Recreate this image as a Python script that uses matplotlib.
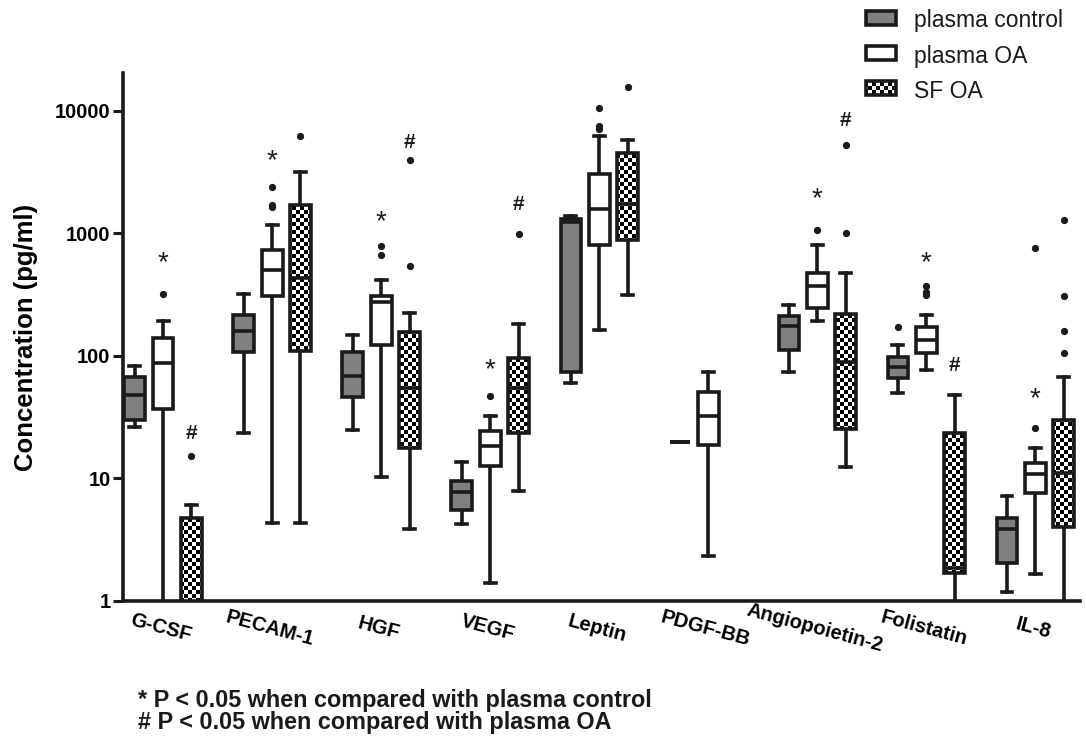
import numpy as np
import matplotlib
matplotlib.use('Agg')
import matplotlib.pyplot as plt
from matplotlib.patches import Rectangle
from matplotlib.image import AxesImage
from matplotlib.transforms import IdentityTransform

plt.rcParams['font.family'] = ['Liberation Sans', 'DejaVu Sans']

cytokines = ['G-CSF', 'PECAM-1', 'HGF', 'VEGF', 'Leptin', 'PDGF-BB',
             'Angiopoietin-2', 'Folistatin', 'IL-8']

# [whisker low, Q1, median, Q3, whisker high]  (pg/ml)
ctrl_box = [
    [26.5, 30, 48, 67, 83],
    [23.5, 108, 159, 216, 321],
    [25, 46, 69, 108, 147],
    [4.24, 5.54, 7.75, 9.6, 13.7],
    [60, 73.5, 1230, 1318, 1390],
    [20, 20, 20, 20, 20],
    [73.5, 112, 176, 211, 261],
    [49.8, 66, 82, 98, 124],
    [1.18, 2.05, 3.88, 4.75, 7.15],
]
ctrl_out = [[], [], [], [], [], [], [], [172], []]

oa_box = [
    [0.3, 37, 87, 139, 194],
    [4.32, 311, 504, 734, 1175],
    [10.3, 123, 277, 311, 415],
    [1.40, 12.6, 18.5, 24.3, 32.2],
    [164, 807, 1578, 3050, 6290],
    [2.35, 18.9, 32.2, 50.8, 74.5],
    [192, 246, 375, 475, 812],
    [77, 105, 136, 172, 218],
    [1.66, 7.64, 10.8, 13.5, 17.7],
]
oa_out = [[321], [1650, 1720, 2410], [664, 796], [46.8], [7150, 7550, 10550],
          [], [1062], [315, 333, 373], [25.6, 755]]

sf_box = [
    [0.3, 0.5, 0.8, 4.8, 6.1],
    [4.32, 110, 430, 1720, 3150],
    [3.88, 17.9, 55, 157, 225],
    [7.85, 23.5, 55, 96, 182],
    [315, 880, 1750, 4560, 5770],
    None,
    [12.4, 25.4, 90, 219, 475],
    [0.5, 1.69, 1.85, 23.5, 48.4],
    [0.5, 4.01, 11, 30.1, 67.3],
]
sf_out = [[15.4], [6250], [543, 3990], [987], [15800], [], [1007, 5320], [],
          [106, 159, 311, 1290]]

# significance marks
star_y = [569, 3855, 1231, 76, None, None, 1905, 569, 44.4]   # * over plasma OA
hash_y = [23.5, None, 5575, 1722, None, None, 8340, 84, None]  # # over SF OA

W, H = 1086, 742
fig = plt.figure(figsize=(W / 100, H / 100), dpi=100)
ax = fig.add_axes([123 / W, 1 - 601 / H, (1080 - 123) / W, (601 - 73) / H])

ink = '#1a1a1a'
lw = 2.6
off = 0.26
bw = 0.19

# checkerboard in figure pixels
cell = 4
yy, xx = np.mgrid[0:H, 0:W]
checker = ((yy // cell + xx // cell) % 2).astype(float)


def checker_image(clip_patch, zorder, clip_box):
    im = AxesImage(ax, cmap='gray', interpolation='nearest',
                   transform=IdentityTransform(), extent=(0, W, 0, H),
                   origin='lower')
    im.set_data(checker)
    im.set_clim(0, 1)
    im.set_zorder(zorder)
    ax.add_image(im)
    im.set_clip_box(clip_box)
    im.set_clip_path(clip_patch)
    return im


x = np.arange(len(cytokines))
series = [(ctrl_box, ctrl_out, -off, '#808080'),
          (oa_box, oa_out, 0.0, 'white'),
          (sf_box, sf_out, off, 'none')]

for boxes, outs, dx, fc in series:
    stats, pos = [], []
    for i, b in enumerate(boxes):
        if b is None:
            continue
        lo, q1, med, q3, hi = b
        stats.append(dict(whislo=lo, q1=q1, med=med, q3=q3, whishi=hi,
                          fliers=outs[i]))
        pos.append(x[i] + dx)
    art = ax.bxp(stats, positions=pos, widths=bw, patch_artist=True,
                 manage_ticks=False, capwidths=0.1,
                 boxprops=dict(facecolor=fc, edgecolor=ink, linewidth=lw),
                 whiskerprops=dict(color=ink, linewidth=lw),
                 capprops=dict(color=ink, linewidth=lw),
                 medianprops=dict(color=ink, linewidth=lw),
                 flierprops=dict(marker='o', markersize=4.2,
                                 markerfacecolor=ink, markeredgecolor=ink))
    for b in art['boxes']:
        b.set_zorder(3)
    for m in art['medians']:
        m.set_zorder(3.1)
    if fc == 'none':
        for b in art['boxes']:
            checker_image(b, 2.5, ax.bbox)

for i in range(len(cytokines)):
    if star_y[i] is not None:
        ax.text(x[i], star_y[i], '*', ha='center', va='center',
                fontsize=20, color=ink)
    if hash_y[i] is not None:
        ax.text(x[i] + off, hash_y[i], '#', ha='center', va='center',
                fontsize=15, fontweight='bold', color=ink)

ax.set_yscale('log')
ax.set_ylim(1, 20400)
ax.set_xlim(-0.368, 8.41)
ax.set_yticks([1, 10, 100, 1000, 10000])
ax.set_yticklabels(['1', '10', '100', '1000', '10000'])
ax.yaxis.set_minor_locator(matplotlib.ticker.NullLocator())
ax.tick_params(axis='y', direction='out', length=7, width=2.2, color=ink,
               labelsize=14.5, pad=2)
for t in ax.get_yticklabels():
    t.set_fontweight('bold')

ax.set_xticks(x)
ax.set_xticklabels(cytokines, rotation=-15, ha='center', va='top',
                   rotation_mode='anchor', fontsize=14.5, fontweight='bold')
ax.tick_params(axis='x', length=0, pad=13)

for s in ['top', 'right']:
    ax.spines[s].set_visible(False)
for s in ['left', 'bottom']:
    ax.spines[s].set_linewidth(lw)
    ax.spines[s].set_color(ink)

ax.set_ylabel('Concentration (pg/ml)', fontsize=18.5, fontweight='bold')
ax.yaxis.set_label_coords(-0.089, 0.5)

# legend
labels = ['plasma control', 'plasma OA', 'SF OA']
faces = ['#808080', 'white', 'none']
rows = [21, 56, 91]
for lab, f, ry in zip(labels, faces, rows):
    r = Rectangle((866, H - ry - 4), 30, 14, transform=IdentityTransform(),
                  facecolor=f, edgecolor=ink, linewidth=lw, clip_on=False,
                  zorder=5)
    ax.add_artist(r)
    if f == 'none':
        checker_image(r, 4.5, fig.bbox)
    fig.text(914 / W, 1 - ry / H, lab, ha='left', va='center', fontsize=16.5,
             color=ink)

fig.text(138 / W, 1 - 701 / H, '* P < 0.05 when compared with plasma control',
         ha='left', va='center', fontsize=16.8, fontweight='bold', color=ink)
fig.text(138 / W, 1 - 723 / H, '# P < 0.05 when compared with plasma OA',
         ha='left', va='center', fontsize=16.8, fontweight='bold', color=ink)

fig.savefig('out.png', dpi=100)
